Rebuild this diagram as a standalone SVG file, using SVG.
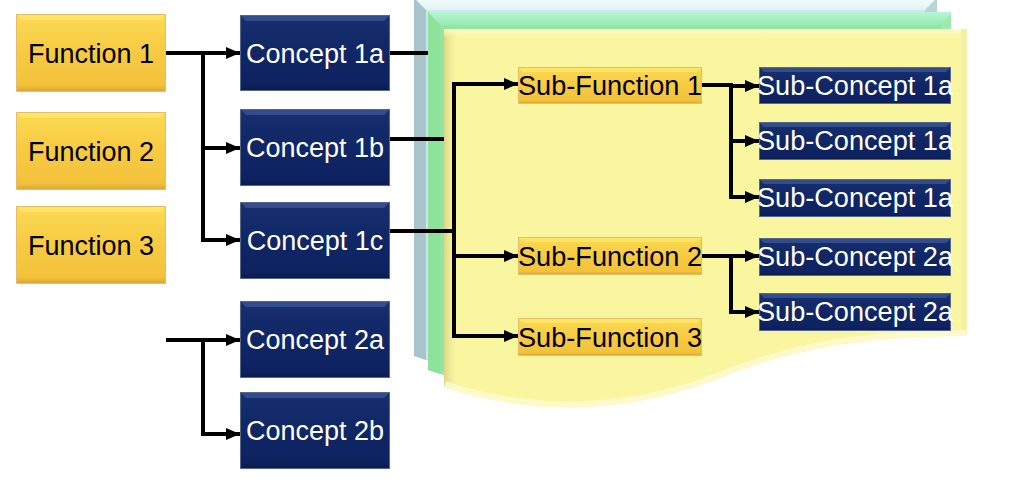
<svg xmlns="http://www.w3.org/2000/svg" width="1016" height="494" viewBox="0 0 1016 494">
<style>
.lbl{font-family:"Liberation Sans",Arial,sans-serif;font-size:27px;text-anchor:middle}
.dk{fill:#000}
.wt{fill:#fff}
.gold{fill:url(#gGold);stroke:#e2bf68;stroke-width:1}
.navy{fill:url(#gNavy);stroke:#56688f;stroke-width:1}
.hiG{fill:#fde866;opacity:.85}
.hiN{fill:#3a5494;opacity:.8}
.ln{fill:none;stroke:#000;stroke-width:4;stroke-linejoin:miter}
.ar{fill:none;stroke:#000;stroke-width:4;marker-end:url(#arrow)}
</style>
<defs>
<linearGradient id="gGold" x1="0" y1="0" x2="0" y2="1">
<stop offset="0" stop-color="#fbda52"/>
<stop offset="0.5" stop-color="#f7ca42"/>
<stop offset="0.92" stop-color="#f3c23c"/>
<stop offset="1" stop-color="#d9a534"/>
</linearGradient>
<linearGradient id="gNavy" x1="0" y1="0" x2="0" y2="1">
<stop offset="0" stop-color="#17306f"/>
<stop offset="0.5" stop-color="#102665"/>
<stop offset="0.92" stop-color="#0e2260"/>
<stop offset="1" stop-color="#091a4d"/>
</linearGradient>
<linearGradient id="gYL" x1="0" y1="0" x2="1" y2="0">
<stop offset="0" stop-color="#ddd48a"/>
<stop offset="1" stop-color="#faf6a0" stop-opacity="0"/>
</linearGradient>
<linearGradient id="gYT" x1="0" y1="0" x2="0" y2="1">
<stop offset="0" stop-color="#fefbd2"/>
<stop offset="1" stop-color="#faf6a0" stop-opacity="0"/>
</linearGradient>
<linearGradient id="gGT" x1="0" y1="0" x2="0" y2="1">
<stop offset="0" stop-color="#b6f6d6"/>
<stop offset="1" stop-color="#98eab0"/>
</linearGradient>
<linearGradient id="gBT" x1="0" y1="0" x2="0" y2="1">
<stop offset="0" stop-color="#f4fcfd"/>
<stop offset="1" stop-color="#dff3f7"/>
</linearGradient>
<path id="page" d="M444,29 H967 V336 C860,336 790,350 720,378 C640,410 540,420 444,387 Z"/>
<clipPath id="cY"><use href="#page"/></clipPath>
<clipPath id="cG"><use href="#page" transform="translate(-16,-17)"/></clipPath>
<clipPath id="cB"><use href="#page" transform="translate(-30,-31)"/></clipPath>
<marker id="arrow" markerUnits="userSpaceOnUse" markerWidth="14" markerHeight="14" viewBox="0 0 14 14" refX="14" refY="7" orient="auto">
<path d="M0,1 L14,7 L0,13 Z" fill="#000"/>
</marker>
</defs>
<rect width="1016" height="494" fill="#fff"/>

<g id="pages">
<g id="page-back">
<use href="#page" transform="translate(-30,-31)" fill="#cfe6ec"/>
<g clip-path="url(#cB)">
<polygon points="414,-2 937,-2 925,10 426,10" fill="url(#gBT)"/>
<polygon points="414,-2 426,10 426,400 414,400" fill="#a9c5cc"/>
<polygon points="937,-2 925,10 925,400 937,400" fill="#b9d3d9"/>
</g>
</g>
<g id="page-mid">
<use href="#page" transform="translate(-16,-17)" fill="#92e6a0"/>
<g clip-path="url(#cG)">
<polygon points="428,12 953,12 941,25 440,25" fill="url(#gGT)"/>
<polygon points="428,12 440,25 440,420 428,420" fill="#8ee39a"/>
<polygon points="953,12 941,25 941,420 953,420" fill="#9ee9ac"/>
</g>
</g>
<g id="page-front">
<use href="#page" fill="#faf6a0"/>
<g clip-path="url(#cY)">
<rect x="444" y="29" width="16" height="400" fill="url(#gYL)"/>
<rect x="444" y="29" width="523" height="10" fill="url(#gYT)"/>
<rect x="961" y="29" width="6" height="320" fill="#f6f0a4"/>
<path d="M967,336 C860,336 790,350 720,378 C640,410 540,420 444,387" fill="none" stroke="#fdfbd6" stroke-width="12" opacity=".8"/>
</g>
</g>
</g>

<g id="connectors">
<path class="ar" d="M166,53 H240"/>
<path class="ar" d="M203,53 V240 H240"/>
<path class="ar" d="M203,148 H240"/>
<path class="ar" d="M166,340 H240"/>
<path class="ar" d="M203,340 V434 H240"/>
<path class="ln" d="M390,53 H428"/>
<path class="ln" d="M390,139 H444"/>
<path class="ln" d="M390,231 H456"/>
<path class="ln" d="M454,82 V338"/>
<path class="ar" d="M452,84 H518"/>
<path class="ar" d="M454,256 H518"/>
<path class="ar" d="M452,336 H518"/>
<path class="ln" d="M702,85 H731 V199"/>
<path class="ar" d="M731,86 H759"/>
<path class="ar" d="M731,141 H759"/>
<path class="ar" d="M729,197 H759"/>
<path class="ln" d="M702,256 H731 V314"/>
<path class="ar" d="M731,256 H759"/>
<path class="ar" d="M729,312 H759"/>
</g>

<g id="function-1"><rect class="gold" x="16.5" y="14.5" width="149" height="77"/><polygon class="hiG" points="17,15 165,15 160,20 22,20"/><text class="lbl dk" x="91" y="63">Function 1</text></g>
<g id="function-2"><rect class="gold" x="16.5" y="112.5" width="149" height="77"/><polygon class="hiG" points="17,113 165,113 160,118 22,118"/><text class="lbl dk" x="91" y="161">Function 2</text></g>
<g id="function-3"><rect class="gold" x="16.5" y="206.5" width="149" height="77"/><polygon class="hiG" points="17,207 165,207 160,212 22,212"/><text class="lbl dk" x="91" y="255">Function 3</text></g>

<g id="concept-1a"><rect class="navy" x="240.5" y="15.5" width="149" height="75"/><polygon class="hiN" points="241,16 389,16 384,21 246,21"/><text class="lbl wt" x="315" y="63">Concept 1a</text></g>
<g id="concept-1b"><rect class="navy" x="240.5" y="109.5" width="149" height="76"/><polygon class="hiN" points="241,110 389,110 384,115 246,115"/><text class="lbl wt" x="315" y="157">Concept 1b</text></g>
<g id="concept-1c"><rect class="navy" x="240.5" y="202.5" width="149" height="76"/><polygon class="hiN" points="241,203 389,203 384,208 246,208"/><text class="lbl wt" x="315" y="250">Concept 1c</text></g>
<g id="concept-2a"><rect class="navy" x="240.5" y="301.5" width="149" height="76"/><polygon class="hiN" points="241,302 389,302 384,307 246,307"/><text class="lbl wt" x="315" y="349">Concept 2a</text></g>
<g id="concept-2b"><rect class="navy" x="240.5" y="392.5" width="149" height="76"/><polygon class="hiN" points="241,393 389,393 384,398 246,398"/><text class="lbl wt" x="315" y="440">Concept 2b</text></g>

<g id="sub-function-1"><rect class="gold" x="518.5" y="67.5" width="183" height="36"/><polygon class="hiG" points="519,68 701,68 697,72 523,72"/><text class="lbl dk" x="610" y="95" textLength="184" lengthAdjust="spacingAndGlyphs">Sub-Function 1</text></g>
<g id="sub-function-2"><rect class="gold" x="518.5" y="237.5" width="183" height="37"/><polygon class="hiG" points="519,238 701,238 697,242 523,242"/><text class="lbl dk" x="610" y="266" textLength="184" lengthAdjust="spacingAndGlyphs">Sub-Function 2</text></g>
<g id="sub-function-3"><rect class="gold" x="518.5" y="318.5" width="183" height="37"/><polygon class="hiG" points="519,319 701,319 697,323 523,323"/><text class="lbl dk" x="610" y="347" textLength="184" lengthAdjust="spacingAndGlyphs">Sub-Function 3</text></g>

<g id="sub-concept-1a-1"><rect class="navy" x="759.5" y="67.5" width="191" height="36"/><polygon class="hiN" points="760,68 950,68 946,72 764,72"/><text class="lbl wt" x="855" y="95" textLength="196" lengthAdjust="spacingAndGlyphs">Sub-Concept 1a</text></g>
<g id="sub-concept-1a-2"><rect class="navy" x="759.5" y="122.5" width="191" height="37"/><polygon class="hiN" points="760,123 950,123 946,127 764,127"/><text class="lbl wt" x="855" y="150" textLength="196" lengthAdjust="spacingAndGlyphs">Sub-Concept 1a</text></g>
<g id="sub-concept-1a-3"><rect class="navy" x="759.5" y="179.5" width="191" height="37"/><polygon class="hiN" points="760,180 950,180 946,184 764,184"/><text class="lbl wt" x="855" y="207" textLength="196" lengthAdjust="spacingAndGlyphs">Sub-Concept 1a</text></g>
<g id="sub-concept-2a-1"><rect class="navy" x="759.5" y="238.5" width="191" height="37"/><polygon class="hiN" points="760,239 950,239 946,243 764,243"/><text class="lbl wt" x="855" y="266" textLength="196" lengthAdjust="spacingAndGlyphs">Sub-Concept 2a</text></g>
<g id="sub-concept-2a-2"><rect class="navy" x="759.5" y="293.5" width="191" height="37"/><polygon class="hiN" points="760,294 950,294 946,298 764,298"/><text class="lbl wt" x="855" y="321" textLength="196" lengthAdjust="spacingAndGlyphs">Sub-Concept 2a</text></g>
</svg>
